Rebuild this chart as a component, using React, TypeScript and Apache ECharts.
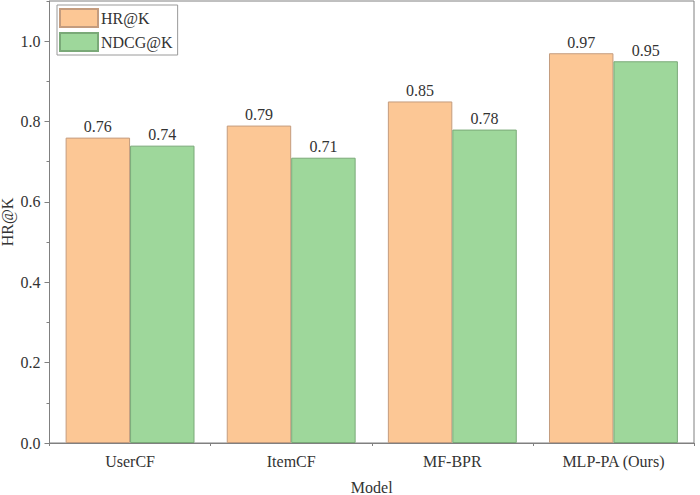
import React, { useEffect, useRef } from "react";
import * as echarts from "echarts";

const models = ["UserCF", "ItemCF", "MF-BPR", "MLP-PA (Ours)"];
const hrValues = [0.76, 0.79, 0.85, 0.97];
const ndcgValues = [0.74, 0.71, 0.78, 0.95];

const FONT = "Liberation Serif";
const AXIS_GRAY = "#808080";
const TEXT_COLOR = "#333333";

const App: React.FC = () => {
  const chartRef = useRef<HTMLDivElement | null>(null);

  useEffect(() => {
    if (!chartRef.current) return;
    const chart = echarts.init(chartRef.current, undefined, { renderer: "svg" });

    const barLabel = {
      show: true,
      position: "top",
      distance: 3,
      fontFamily: FONT,
      fontSize: 16,
      color: TEXT_COLOR,
      formatter: (p: any) => p.value.toFixed(2),
    };

    chart.setOption({
      animation: false,
      backgroundColor: "#ffffff",
      textStyle: { fontFamily: FONT },
      grid: {
        left: 49.5,
        right: 6,
        top: 1,
        bottom: 52,
        outerBoundsMode: "none",
        containLabel: false,
        show: true,
        borderColor: AXIS_GRAY,
        borderWidth: 1,
      },
      legend: {
        orient: "vertical",
        left: 57,
        top: 5,
        padding: [3, 5, 3, 2],
        itemWidth: 38,
        itemHeight: 18,
        itemGap: 4,
        borderColor: "#9a9a9a",
        borderWidth: 1,
        icon: "rect",
        data: ["HR@K", "NDCG@K"],
        textStyle: { fontFamily: FONT, fontSize: 16, color: TEXT_COLOR, padding: [0, 0, 0, -2] },
      },
      xAxis: [
        {
          type: "category",
          data: models,
          name: "Model",
          nameLocation: "middle",
          nameGap: 36,
          nameMoveOverlap: false,
          nameTextStyle: { fontFamily: FONT, fontSize: 16, color: TEXT_COLOR },
          axisLine: { lineStyle: { color: AXIS_GRAY } },
          axisTick: { alignWithLabel: true, length: 5, lineStyle: { color: AXIS_GRAY } },
          axisLabel: { fontFamily: FONT, fontSize: 16, color: TEXT_COLOR, margin: 10 },
        },
        {
          type: "value",
          position: "bottom",
          min: 0,
          max: 4,
          interval: 1,
          axisLine: { show: false },
          axisTick: { show: true, length: 3, lineStyle: { color: AXIS_GRAY } },
          axisLabel: { show: false },
          splitLine: { show: false },
        },
      ],
      yAxis: [
        {
          type: "value",
          min: 0,
          max: 1.1,
          interval: 0.2,
          name: "HR@K",
          nameLocation: "middle",
          nameGap: 34,
          nameMoveOverlap: false,
          nameTextStyle: { fontFamily: FONT, fontSize: 16, color: TEXT_COLOR },
          axisLine: { show: true, lineStyle: { color: AXIS_GRAY } },
          axisTick: { show: true, length: 5, lineStyle: { color: AXIS_GRAY } },
          axisLabel: {
            fontFamily: FONT,
            fontSize: 16,
            color: TEXT_COLOR,
            margin: 9,
            showMaxLabel: false,
            formatter: (v: number) => v.toFixed(1),
          },
          splitLine: { show: false },
        },
        {
          type: "value",
          position: "left",
          min: 0,
          max: 1.1,
          interval: 0.1,
          axisLine: { show: false },
          axisTick: { show: true, length: 3, lineStyle: { color: AXIS_GRAY } },
          axisLabel: { show: false },
          splitLine: { show: false },
        },
      ],
      series: [
        {
          name: "HR@K",
          type: "bar",
          xAxisIndex: 0,
          yAxisIndex: 0,
          data: hrValues,
          barWidth: "40%",
          barGap: "0%",
          itemStyle: { color: "#FCC795", borderColor: "#C49C7E", borderWidth: 1 },
          label: barLabel,
        },
        {
          name: "NDCG@K",
          type: "bar",
          xAxisIndex: 0,
          yAxisIndex: 0,
          data: ndcgValues,
          barWidth: "40%",
          barGap: "0%",
          itemStyle: { color: "#9ED79B", borderColor: "#7AA978", borderWidth: 1 },
          label: barLabel,
        },
      ],
    });

    return () => {
      chart.dispose();
    };
  }, []);

  return (
    <div
      ref={chartRef}
      style={{ position: "fixed", left: 0, top: 0, width: 700, height: 495, background: "#fff" }}
    />
  );
};

export default App;
